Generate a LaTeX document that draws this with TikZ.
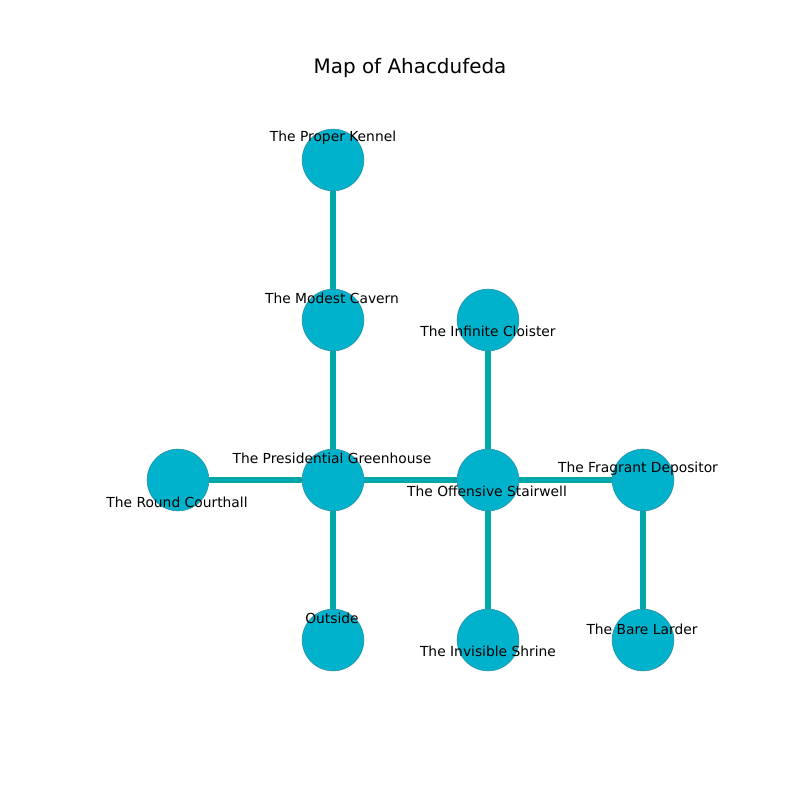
\documentclass[tikz,border=0pt]{standalone}
\usepackage{fontspec}
\setmainfont{DejaVu Sans}
\definecolor{roomcyan}{RGB}{0, 178, 204}
\definecolor{roomedge}{RGB}{40, 140, 160}
\definecolor{passteal}{RGB}{0, 168, 170}
\usetikzlibrary{positioning}

\begin{document}
\begin{tikzpicture}[x=0.0254cm, y=-0.0254cm,
  room/.style={circle, fill=roomcyan, draw=roomedge, line width=0.4pt, minimum size=44.6pt, inner sep=0pt},
  passage/.style={passteal, line width=4.4pt},
  lbl/.style={font=\fontsize{10}{12}\selectfont, inner sep=0pt}]
  \useasboundingbox (0,0) rectangle (800,800);

  % title
  \node[font=\fontsize{14.4}{17}\selectfont] (title) at (410,68) {Map of Ahacdufeda};

  % rooms
  \node[room] (kennel) at (333,160) {};
  \node[room] (cavern) at (333,320) {};
  \node[room] (cloister) at (488,320) {};
  \node[room] (court) at (178,480) {};
  \node[room] (green) at (333,480) {};
  \node[room] (stair) at (488,480) {};
  \node[room] (depot) at (643,480) {};
  \node[room] (outside) at (333,640) {};
  \node[room] (shrine) at (488,640) {};
  \node[room] (larder) at (643,640) {};

  % passages
  \draw[passage] (kennel) -- (cavern);
  \draw[passage] (cavern) -- (green);
  \draw[passage] (court) -- (green);
  \draw[passage] (green) -- (stair);
  \draw[passage] (green) -- (outside);
  \draw[passage] (cloister) -- (stair);
  \draw[passage] (stair) -- (depot);
  \draw[passage] (stair) -- (shrine);
  \draw[passage] (depot) -- (larder);

  % labels
  \node[lbl] (kennel-l) at (333,138) {The Proper Kennel};
  \node[lbl] (cavern-l) at (332,298) {The Modest Cavern};
  \node[lbl] (cloister-l) at (488,331) {The Infinite Cloister};
  \node[lbl] (green-l) at (332,458) {The Presidential Greenhouse};
  \node[lbl] (court-l) at (177,502) {The Round Courthall};
  \node[lbl] (stair-l) at (487,491) {The Offensive Stairwell};
  \node[lbl] (depot-l) at (638,469) {The Fragrant Depositor};
  \node[lbl] (outside-l) at (332,618) {Outside};
  \node[lbl] (shrine-l) at (488,651) {The Invisible Shrine};
  \node[lbl] (larder-l) at (642,629) {The Bare Larder};
\end{tikzpicture}
\end{document}
